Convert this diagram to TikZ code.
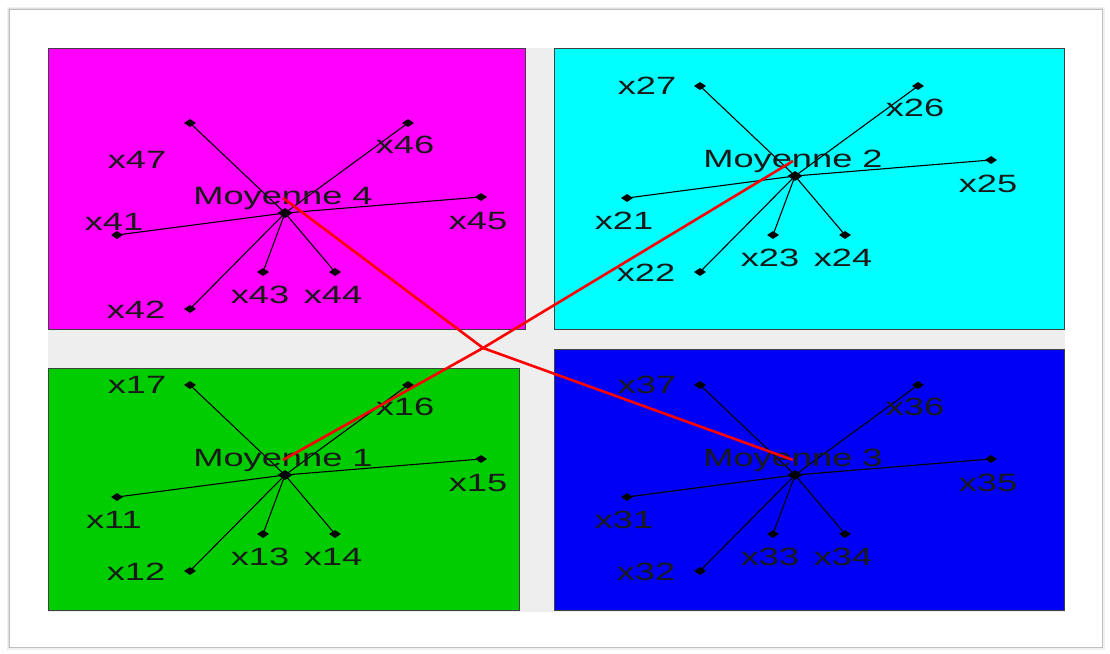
\documentclass[tikz,border=0pt]{standalone}
\usepackage{fontspec}
\usepackage{graphicx}
\setmainfont{Liberation Sans}
\usetikzlibrary{shapes.geometric}
\definecolor{bggray}{RGB}{238,238,238}
\definecolor{pmag}{RGB}{255,0,255}
\definecolor{pcyan}{RGB}{0,255,255}
\definecolor{pgreen}{RGB}{0,204,0}
\definecolor{pblue}{RGB}{0,0,245}
\definecolor{pred}{RGB}{255,0,0}
\newcommand\widetxt[1]{\scalebox{1.45}[1]{#1}}
\begin{document}
\begin{tikzpicture}[x=1pt,y=-1pt,
  dot/.style={diamond,fill=black,inner sep=0pt,minimum width=12pt,minimum height=8pt},
  cdot/.style={diamond,fill=black,inner sep=0pt,minimum width=15pt,minimum height=10pt},
  ray/.style={draw=black,line width=1.1pt},
  lbl/.style={font=\fontsize{25}{25}\selectfont,inner sep=0pt,text=black!90},
  panel/.style={draw=black!75,line width=1pt},
  redline/.style={draw=pred,line width=2.6pt,line join=round}]
\useasboundingbox (0,0) rectangle (1110,653);
% outer frame with soft shadow
\draw[draw=black!6,line width=5pt] (9,9) rectangle (1102,647);
\draw[draw=black!12,line width=2.5pt] (9,9) rectangle (1102,647);
\draw[fill=white,draw=black!25,line width=1pt] (9,9) rectangle (1102,647);
% gray background
\fill[bggray] (48,48) rectangle (1065,612);
% panels
\draw[panel,fill=pmag] (48,48) rectangle (525,329);
\draw[panel,fill=pcyan] (554,48) rectangle (1064,329);
\draw[panel,fill=pgreen] (48,368) rectangle (519,610);
\draw[panel,fill=pblue] (554,349) rectangle (1064,610);
% stars
\foreach \n/\cx/\cy/\sy/\oy in {4/285/213/-53/9, 2/795/176/-90/45, 1/285/475/-90/45, 3/795/475/-90/45}{
  \node[cdot] (m\n) at (\cx,\cy) {};
  \foreach \k/\dx/\dy in {1/-168/22, 2/-95/96, 3/-22/59, 4/50/59, 5/196/-16, 6/123/-90, 7/-95/-90}{
    \node[dot] (x\n\k) at (\cx+\dx,\cy+\dy) {};
    \draw[ray] (m\n.center) -- (x\n\k.center);
  }
  \node[lbl] (t\n1) at (\cx-171,\cy+\oy) {\widetxt{x\n1}};
  \node[lbl] (t\n2) at (\cx-149,\cy+97) {\widetxt{x\n2}};
  \node[lbl] (t\n3) at (\cx-25,\cy+82) {\widetxt{x\n3}};
  \node[lbl] (t\n4) at (\cx+48,\cy+82) {\widetxt{x\n4}};
  \node[lbl] (t\n5) at (\cx+193,\cy+8) {\widetxt{x\n5}};
  \node[lbl] (t\n6) at (\cx+120,\cy-68) {\widetxt{x\n6}};
  \node[lbl] (t\n7) at (\cx-148,\cy+\sy) {\widetxt{x\n7}};
  \node[lbl] (moy\n) at (\cx-2,\cy-15) {\widetxt{Moyenne \n}};
}
% red connectors between means, meeting at a common point
\coordinate (g) at (483,348);
\draw[redline] (moy4.center) -- (g) -- (moy3.center);
\draw[redline] (moy1.center) -- (g) -- (moy2.center);
\end{tikzpicture}
\end{document}
